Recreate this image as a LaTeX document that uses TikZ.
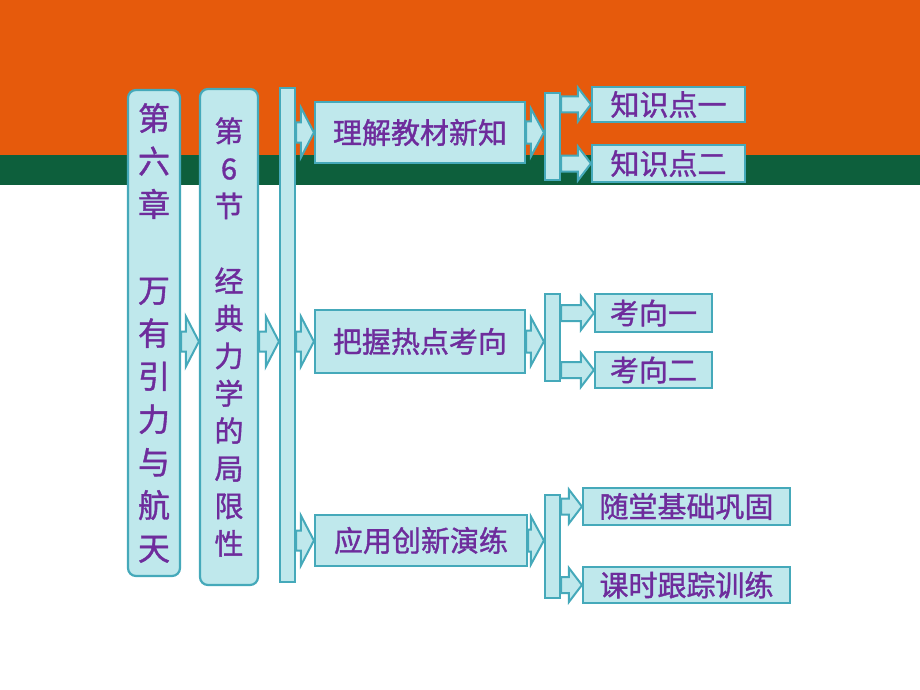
\documentclass[tikz,border=0pt]{standalone}
\usepackage{fontspec}
\newfontfamily\cjk[FakeBold=1.2]{Noto Sans CJK SC}
\usetikzlibrary{calc}

\definecolor{orangetop}{HTML}{E65A0C}
\definecolor{greenband}{HTML}{0D5F3C}
\definecolor{boxfill}{HTML}{BFE8EC}
\definecolor{boxline}{HTML}{45A9BA}
\definecolor{textpurple}{HTML}{6E2C9C}

\tikzset{
  panel/.style={draw=boxline, fill=boxfill, line width=2.2pt, inner sep=0pt,
    text=textpurple, font=\cjk\fontsize{29}{34}\selectfont},
  tallpanel/.style={panel, rounded corners=8pt, align=center},
  rail/.style={draw=boxline, fill=boxfill, line width=2.2pt, inner sep=0pt,
    minimum width=15},
  arrowbox/.style={draw=boxline, fill=boxfill, line width=2pt, line join=miter}
}

% block arrow from #1 to #2, shaft half height #3, head half height #4
\newcommand{\fatarrow}[4]{%
  \draw[arrowbox] let \p1=(#1), \p2=(#2) in
    (\x1,\y1+#3) -- (\x2-13pt,\y1+#3) -- (\x2-13pt,\y1+#4) -- (\x2,\y1)
    -- (\x2-13pt,\y1-#4) -- (\x2-13pt,\y1-#3) -- (\x1,\y1-#3) -- cycle;}

\begin{document}
\begin{tikzpicture}[x=1pt,y=-1pt]
  \useasboundingbox (0,0) rectangle (920,690);
  \fill[white] (0,0) rectangle (920,690);
  \fill[orangetop] (0,0) rectangle (920,155);
  \fill[greenband] (0,155) rectangle (920,185);

  % chapter and section
  \node[tallpanel, minimum width=52, minimum height=486,
    font=\cjk\fontsize{32}{43}\selectfont] (chap) at (154,333)
    {第\\六\\章\\[43pt]万\\有\\引\\力\\与\\航\\天};
  \node[tallpanel, minimum width=58, minimum height=496,
    font=\cjk\fontsize{29}{37.5}\selectfont] (sec) at (229,337)
    {第\\6\\节\\[37.5pt]经\\典\\力\\学\\的\\局\\限\\性};
  \node[rail, minimum height=494] (mainrail) at (287.5,335) {};

  % three parts
  \node[panel, minimum width=210, minimum height=61] (learn) at (420,132.5) {理解教材新知};
  \node[panel, minimum width=210, minimum height=63] (grasp) at (420,341.5) {把握热点考向};
  \node[panel, minimum width=212, minimum height=51] (apply) at (421,540.5) {应用创新演练};

  \node[rail, minimum height=87] (rail1) at (552.5,136.5) {};
  \node[rail, minimum height=87] (rail2) at (552.5,337.5) {};
  \node[rail, minimum height=103] (rail3) at (552.5,546.5) {};

  \node[panel, minimum width=153, minimum height=35] (know1) at (668.5,104.5) {知识点一};
  \node[panel, minimum width=153, minimum height=37] (know2) at (668.5,163.5) {知识点二};
  \node[panel, minimum width=117, minimum height=38] (dir1) at (653.5,313) {考向一};
  \node[panel, minimum width=117, minimum height=36] (dir2) at (653.5,370) {考向二};
  \node[panel, minimum width=207, minimum height=37] (class) at (686.5,506.5) {随堂基础巩固};
  \node[panel, minimum width=207, minimum height=36] (drill) at (686.5,585) {课时跟踪训练};

  % arrows
  \fatarrow{chap.east |- grasp.west}{sec.west |- grasp.west}{10pt}{25pt}
  \fatarrow{sec.east |- grasp.west}{mainrail.west |- grasp.west}{10pt}{25pt}
  \fatarrow{mainrail.east |- learn.west}{learn.west}{10pt}{25pt}
  \fatarrow{mainrail.east |- grasp.west}{grasp.west}{10pt}{25pt}
  \fatarrow{mainrail.east |- apply.west}{apply.west}{10pt}{25pt}
  \fatarrow{learn.east}{rail1.west |- learn.east}{11pt}{24pt}
  \fatarrow{grasp.east}{rail2.west |- grasp.east}{11pt}{24pt}
  \fatarrow{apply.east}{rail3.west |- apply.east}{11pt}{24pt}
  \fatarrow{rail1.east |- know1.west}{know1.west}{8pt}{17pt}
  \fatarrow{rail1.east |- know2.west}{know2.west}{8pt}{17pt}
  \fatarrow{rail2.east |- dir1.west}{dir1.west}{8pt}{17pt}
  \fatarrow{rail2.east |- dir2.west}{dir2.west}{8pt}{17pt}
  \fatarrow{rail3.east |- class.west}{class.west}{8pt}{17pt}
  \fatarrow{rail3.east |- drill.west}{drill.west}{8pt}{17pt}
\end{tikzpicture}
\end{document}
